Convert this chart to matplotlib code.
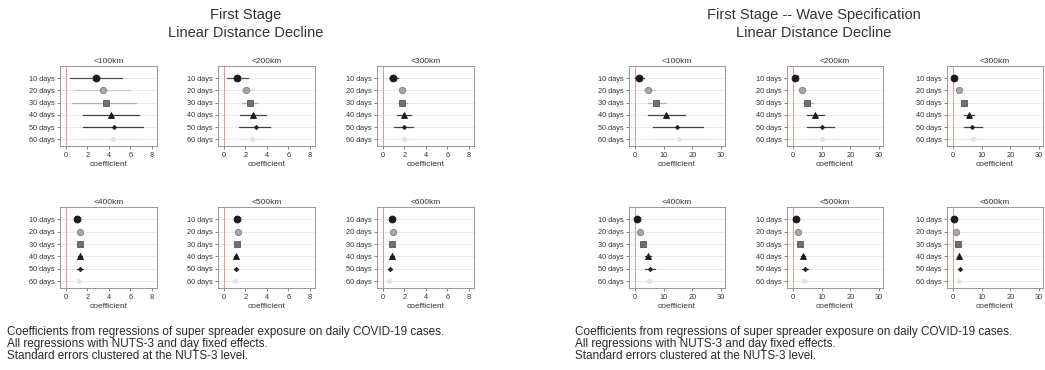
import matplotlib
matplotlib.use("Agg")
import matplotlib.pyplot as plt

plt.rcParams['font.family'] = ['Liberation Sans', 'DejaVu Sans']

days = ["10 days", "20 days", "30 days", "40 days", "50 days", "60 days"]
panels = ["<100km", "<200km", "<300km", "<400km", "<500km", "<600km"]

# linear distance decline: point estimates and 95% CI per panel (rows = days)
lin_coef = [[2.8, 3.5, 3.7, 4.2, 4.5, 4.4],
            [1.2, 2.1, 2.4, 2.7, 3.0, 2.6],
            [0.95, 1.8, 1.8, 2.0, 2.0, 2.0],
            [1.05, 1.3, 1.3, 1.3, 1.3, 1.2],
            [1.2, 1.35, 1.25, 1.1, 1.1, 1.0],
            [0.85, 0.9, 0.85, 0.85, 0.65, 0.6]]
lin_lo = [[0.4, 0.8, 0.6, 1.6, 1.6, 1.5],
          [0.3, 1.7, 1.7, 1.5, 1.4, 1.5],
          [0.6, 1.5, 1.4, 1.3, 1.0, 1.2],
          [0.9, 1.15, 1.1, 1.1, 1.0, 1.0],
          [1.05, 1.2, 1.1, 0.95, 0.9, 0.85],
          [0.75, 0.8, 0.75, 0.7, 0.5, 0.45]]
lin_hi = [[5.2, 6.0, 6.5, 6.8, 7.2, 7.0],
          [2.2, 2.6, 3.2, 3.9, 4.3, 3.7],
          [1.4, 2.1, 2.2, 2.6, 2.8, 2.7],
          [1.2, 1.45, 1.5, 1.5, 1.6, 1.4],
          [1.35, 1.5, 1.4, 1.25, 1.3, 1.15],
          [0.95, 1.0, 0.95, 1.0, 0.8, 0.75]]

# wave specification
wave_coef = [[1.4, 4.5, 7.5, 10.7, 14.8, 15.5],
             [0.7, 3.0, 5.0, 7.7, 10.2, 10.0],
             [0.3, 2.2, 3.8, 5.5, 6.8, 7.0],
             [0.6, 1.7, 2.8, 4.5, 5.2, 5.0],
             [0.9, 1.6, 2.6, 3.4, 4.2, 4.0],
             [0.3, 1.0, 1.6, 2.1, 2.3, 2.2]]
wave_lo = [[0.0, 3.0, 4.5, 4.5, 6.2, 6.5],
           [0.0, 2.0, 3.5, 5.0, 4.8, 5.0],
           [-0.3, 1.5, 2.8, 4.0, 4.0, 3.5],
           [0.2, 1.2, 2.0, 3.5, 3.5, 3.0],
           [0.5, 1.2, 2.0, 2.7, 3.0, 2.8],
           [0.0, 0.7, 1.2, 1.6, 1.8, 1.5]]
wave_hi = [[3.0, 7.0, 11.0, 17.6, 23.8, 28.0],
           [1.5, 4.0, 7.0, 11.0, 14.4, 16.0],
           [1.0, 3.0, 5.0, 7.5, 10.0, 10.5],
           [1.0, 2.2, 3.6, 5.5, 7.0, 7.0],
           [1.3, 2.0, 3.2, 4.1, 5.4, 5.2],
           [0.6, 1.3, 2.0, 2.6, 2.8, 2.9]]

lin_ticks = [0, 2, 4, 6, 8]
wave_ticks = [0, 10, 20, 30]

notes = ("Coefficients from regressions of super spreader exposure on daily COVID-19 cases.\n"
         "All regressions with NUTS-3 and day fixed effects.\n"
         "Standard errors clustered at the NUTS-3 level.")

# marker style per horizon
markers = ['o', 'o', 's', '^', 'D', 'o']
mface = ['#1a1a1a', '#a8a8a8', '#707070', '#1a1a1a', '#222222', '#e4e4e4']
medge = ['#1a1a1a', '#7a7a7a', '#555555', '#1a1a1a', '#222222', '#e4e4e4']
msize = [5, 4.5, 4.5, 5, 2.2, 3]
lcol = ['#505050', '#c8c8c8', '#b4b4b4', '#404040', '#404040', '#e8e8e8']

W, H = 1045, 370
fig = plt.figure(figsize=(W / 100, H / 100), dpi=100)


def box(x0, y0, x1, y1):
    return [x0 / W, 1 - y1 / H, (x1 - x0) / W, (y1 - y0) / H]


def coefplot(ax, b, lo, hi, ticks, xlim, title):
    ys = range(1, len(days) + 1)
    for i, y in enumerate(ys):
        ax.axhline(y, color='#e6e6e6', lw=0.6, zorder=0)
        ax.plot([lo[i], hi[i]], [y, y], color=lcol[i], lw=0.9, zorder=2)
        ax.plot(b[i], y, marker=markers[i], ms=msize[i], mfc=mface[i],
                mec=medge[i], mew=0.6, ls='none', zorder=3)
    ax.axvline(0, color='#e88080', lw=0.6, zorder=1)
    ax.set_xlim(*xlim)
    ax.set_ylim(6.55, 0.0)
    ax.set_xticks(ticks)
    ax.set_yticks(list(ys))
    ax.set_yticklabels(days)
    ax.tick_params(labelsize=5.3, length=2.5, width=0.5, color='#555555',
                   labelcolor='#333333', pad=1.5)
    for s in ax.spines.values():
        s.set_color('#888888')
        s.set_linewidth(0.6)
    ax.set_xlabel('coefficient', fontsize=6, labelpad=2, color='#333333')
    ax.set_title(title, fontsize=6, pad=2.5, color='#333333')


groups = [
    (0, "First Stage\nLinear Distance Decline", lin_coef, lin_lo, lin_hi,
     lin_ticks, (-0.56, 8.5), [60, 218, 377], 97, 246, 7),
    (1, "First Stage -- Wave Specification\nLinear Distance Decline", wave_coef, wave_lo, wave_hi,
     wave_ticks, (-2.07, 31.4), [629, 787, 947], 96, 814, 575),
]
rows = [(66, 146), (207, 288)]

for g, heading, B, LO, HI, ticks, xlim, lefts, width, cx, nx in groups:
    fig.text(cx / W, 1 - 24 / H, heading, ha='center', va='center',
             fontsize=10.5, color='#333333', linespacing=1.3)
    for k in range(6):
        r, c = divmod(k, 3)
        ax = fig.add_axes(box(lefts[c], rows[r][0], lefts[c] + width, rows[r][1]))
        coefplot(ax, B[k], LO[k], HI[k], ticks, xlim, panels[k])
    fig.text(nx / W, 1 - 326 / H, notes, ha='left', va='top',
             fontsize=8.5, color='#2a2a2a', linespacing=1.02)

fig.savefig("out.png", dpi=100)
